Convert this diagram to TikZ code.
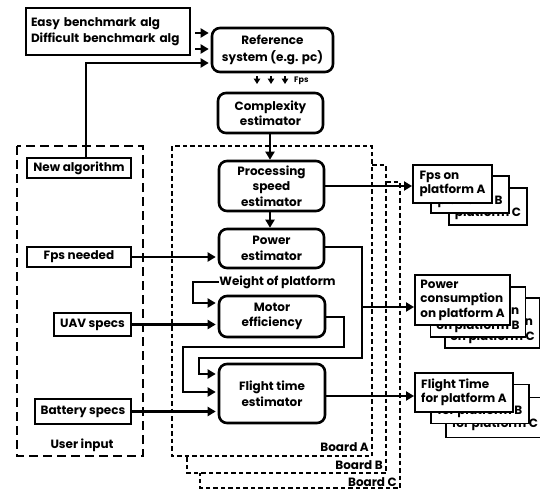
\documentclass[tikz,border=0pt]{standalone}
\usepackage{fontspec}
\setmainfont{Poppins}
\usetikzlibrary{arrows.meta}
\begin{document}
\begin{tikzpicture}[x=1pt,y=-1pt,
  font=\bfseries\fontsize{12}{15.5}\selectfont,
  rbox/.style={draw, line width=2.6pt, rounded corners=8pt, align=center, inner sep=0pt},
  sbox/.style={draw, line width=2.1pt, align=center, inner sep=0pt, fill=white},
  stk/.style={draw, line width=1.9pt, fill=white, align=left, inner sep=0pt,
    font=\bfseries\fontsize{12}{14.5}\selectfont},
  arr/.style={line width=2.6pt, -{Triangle[length=8pt,width=9pt]}, shorten >=2pt},
  sarr/.style={line width=1.8pt, -{Triangle[length=5.5pt,width=6.5pt]}},
  board/.style={line width=1.6pt, dash pattern=on 4.5pt off 3pt},
  userbox/.style={line width=2.1pt, dash pattern=on 9pt off 5pt},
  lbl/.style={inner sep=0pt}
]
\useasboundingbox (0,0) rectangle (540,490);

% dashed groups
\draw[userbox] (17,146) rectangle (143,456);
\draw[board] (172,146) rectangle (372,456);
\draw[board] (372,165) -- (386,165) -- (386,473) -- (187,473) -- (187,456);
\draw[board] (386,182) -- (400,182) -- (400,488) -- (200,488) -- (200,473);
\node[lbl] (userlbl) at (82,445) {User input};
\node[lbl, anchor=east] (bA) at (369,447) {Board A};
\node[lbl, anchor=east] (bB) at (383,465) {Board B};
\node[lbl, anchor=east] (bC) at (397,482) {Board C};

% top
\node[sbox, minimum width=164pt, minimum height=47pt, text width=154pt, align=left] (bench) at (108,31.5) {Easy benchmark alg\\Difficult benchmark alg};
\node[rbox, minimum width=121pt, minimum height=44pt, font=\bfseries\fontsize{12}{17}\selectfont] (ref) at (272.5,50) {Reference\\system (e.g. pc)};
\node[rbox, minimum width=105pt, minimum height=40pt] (cplx) at (270.5,113) {Complexity\\estimator};
\node[rbox, minimum width=105pt, minimum height=50pt] (proc) at (271.5,186) {Processing\\speed\\estimator};
\node[rbox, minimum width=105pt, minimum height=39pt] (pow) at (271.5,248.5) {Power\\estimator};
\node[lbl] (wt) at (277.5,282) {Weight of platform};
\node[rbox, minimum width=106pt, minimum height=41pt] (mot) at (272,316.5) {Motor\\efficiency};
\node[rbox, minimum width=106pt, minimum height=59pt] (ft) at (272,393.5) {Flight time\\estimator};

% user inputs
\node[sbox, minimum width=104pt, minimum height=20pt] (newalg) at (79,168) {New algorithm};
\node[sbox, minimum width=104pt, minimum height=20pt] (fpsn) at (79,257) {Fps needed};
\node[sbox, minimum width=77pt, minimum height=23pt] (uav) at (92.5,324.5) {UAV specs};
\node[sbox, minimum width=96pt, minimum height=25pt] (bat) at (83,411.5) {Battery specs};

% output stacks
\node[stk, minimum width=78pt, minimum height=37pt] (fpsC) at (488,206.5) {Fps on\\platform C};
\node[stk, minimum width=78pt, minimum height=37pt] (fpsB) at (470,194.5) {Fps on\\platform B};
\node[stk, minimum width=79pt, minimum height=38pt] (fpsA) at (452.5,184) {Fps on\\platform A};

\node[stk, minimum width=95pt, minimum height=50pt] (pcC) at (492.5,323) {Power\\consumption\\on platform C};
\node[stk, minimum width=95pt, minimum height=50pt] (pcB) at (478,312) {Power\\consumption\\on platform B};
\node[stk, minimum width=95pt, minimum height=50pt] (pcA) at (462.5,300) {Power\\consumption\\on platform A};

\node[stk, minimum width=98pt, minimum height=40pt] (ftC) at (495,417.5) {Flight Time\\for platform C};
\node[stk, minimum width=98pt, minimum height=39pt] (ftB) at (480,404) {Flight Time\\for platform B};
\node[stk, minimum width=98pt, minimum height=39pt] (ftA) at (464,392.5) {Flight Time\\for platform A};

% connectors top
\draw[arr] ([xshift=4pt]bench.east |- 0,33) -- (ref.west |- 0,33);
\draw[arr] ([xshift=4pt]bench.east |- 0,49) -- (ref.west |- 0,49);
\draw[arr] ([xshift=7pt]newalg.north) -- ([xshift=7pt]newalg.north |- 0,63) -- (ref.west |- 0,63);

\coordinate (f1) at (257,76);
\coordinate (f2) at (271,76);
\coordinate (f3) at (285,76);
\draw[sarr] (f1) -- ++(0,8);
\draw[sarr] (f2) -- ++(0,8);
\draw[sarr] (f3) -- ++(0,8);
\node[lbl, font=\bfseries\fontsize{8}{9}\selectfont, anchor=west] (fpslbl) at (294,80.5) {Fps};

\draw[arr, shorten >=0pt] (cplx.south -| 270,0) -- (proc.north -| 270,0);
\draw[arr, shorten >=0pt] (proc.south -| 270,0) -- (pow.north -| 270,0);

% inputs
\draw[arr] (fpsn.east) -- (fpsn.east -| pow.west);
\draw[arr] (uav.east) -- (uav.east -| mot.west);
\draw[arr] (bat.east) -- (bat.east -| ft.west);
\draw[arr] (wt.west) -- (193,282) -- (193,303) -- (mot.west |- 0,303);

% feedback lines
\draw[arr] (mot.east |- 0,317) -- (344,317) -- (344,347) -- (183,347) -- (183,392) -- (ft.west |- 0,392);
\draw[arr] (pow.east |- 0,247) -- (362,247) -- (362,358) -- (199,358) -- (199,374) -- (ft.west |- 0,374);
\draw[arr, shorten >=0pt] (362,307) -- (pcA.west |- 0,307);

% outputs
\draw[arr, shorten >=0pt] (proc.east |- 0,186) -- (fpsA.west |- 0,186);
\draw[arr, shorten >=0pt] (ft.east |- 0,396) -- (ftA.west |- 0,396);
\end{tikzpicture}
\end{document}
